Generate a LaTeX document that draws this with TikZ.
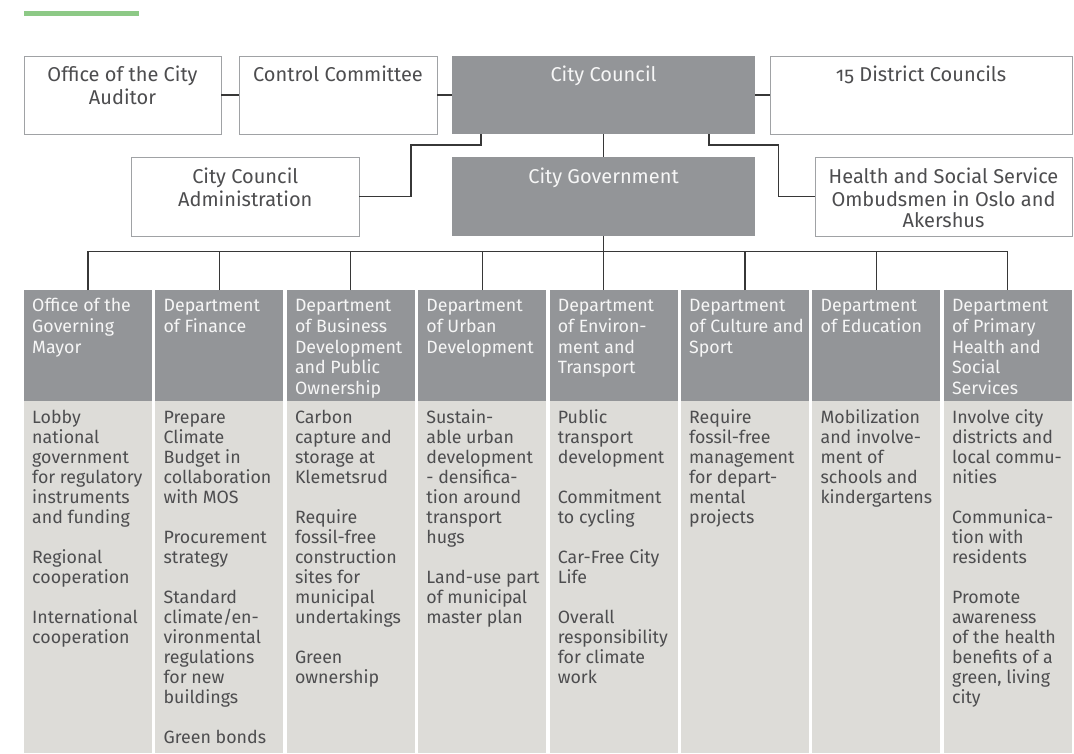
\documentclass[tikz,border=0pt]{standalone}
\usepackage{fontspec}
\setmainfont{Fira Sans}[Numbers=OldStyle]
\definecolor{greenbar}{RGB}{141,201,134}
\definecolor{dgray}{RGB}{147,149,152}
\definecolor{lgray}{RGB}{221,220,216}
\definecolor{txt}{RGB}{77,77,79}
\definecolor{boxline}{RGB}{160,162,165}
\definecolor{lineC}{RGB}{55,55,55}
\definecolor{htxt}{RGB}{246,246,246}
\begin{document}
\begin{tikzpicture}[x=1pt,y=-1pt,
 wbox/.style={draw=boxline,line width=0.9pt,fill=white,inner sep=0pt,outer sep=0pt,anchor=north west},
 gbox/.style={fill=dgray,inner sep=0pt,outer sep=0pt,anchor=north west},
 bbox/.style={fill=lgray,inner sep=0pt,outer sep=0pt,anchor=north west},
 toptext/.style={anchor=north,inner sep=0pt,align=center,text=txt,font=\fontsize{20}{21.6}\selectfont},
 toptextw/.style={toptext,text=htxt},
 htext/.style={anchor=north west,inner sep=0pt,align=left,text=htxt,font=\fontsize{17.8}{20.8}\selectfont},
 btext/.style={anchor=north west,inner sep=0pt,align=left,text=txt,font=\fontsize{17.8}{20}\selectfont},
 link/.style={draw=lineC,line width=1.1pt}
]
\useasboundingbox (0,0) rectangle (1074,753);
\fill[greenbar] (24,11) rectangle (139,16);

% top boxes
\node[wbox,minimum width=197pt,minimum height=78pt] (aud) at (24,56) {};
\node[wbox,minimum width=198pt,minimum height=78pt] (ctrl) at (239,56) {};
\node[gbox,minimum width=303pt,minimum height=78pt] (council) at (452,56) {};
\node[wbox,minimum width=302pt,minimum height=78pt] (dist) at (770,56) {};
\node[wbox,minimum width=227.5pt,minimum height=79pt] (admin) at (131.5,157) {};
\node[gbox,minimum width=303pt,minimum height=79pt] (gov) at (452,157) {};
\node[wbox,minimum width=257pt,minimum height=79pt] (health) at (815,157) {};

\node[toptext,yshift=-10pt] (audT) at (aud.north) {\strut Office of the City\\Auditor};
\node[toptext,yshift=-10pt] (ctrlT) at (ctrl.north) {\strut Control Committee};
\node[toptextw,yshift=-10pt] (councilT) at (council.north) {\strut City Council};
\node[toptext,yshift=-10pt] (distT) at (dist.north) {\strut 15 District Councils};
\node[toptext,yshift=-10.5pt] (adminT) at (admin.north) {\strut City Council\\Administration};
\node[toptextw,yshift=-10.5pt] (govT) at (gov.north) {\strut City Government};
\node[toptext,yshift=-10.5pt] (healthT) at (health.north) {\strut Health and Social Service\\Ombudsmen in Oslo and\\Akershus};

% department headers
\foreach \i/\x in {0/24,1/155.4,2/286.8,3/418.2,4/549.6,5/681,6/812.4,7/943.8}{
  \node[gbox,minimum width=127.9pt,minimum height=111pt] (h\i) at (\x,290) {};
  \node[bbox,minimum width=127.9pt,minimum height=352pt] (b\i) at (\x,401) {};
}
\node[htext,xshift=8pt,yshift=-6.7pt] (h0t) at (h0.north west) {\strut Office of the\\Governing\\Mayor};
\node[htext,xshift=8pt,yshift=-6.7pt] (h1t) at (h1.north west) {\strut Department\\of Finance};
\node[htext,xshift=8pt,yshift=-6.7pt] (h2t) at (h2.north west) {\strut Department\\of Business\\Development\\and Public\\Ownership};
\node[htext,xshift=8pt,yshift=-6.7pt] (h3t) at (h3.north west) {\strut Department\\of Urban\\Development};
\node[htext,xshift=8pt,yshift=-6.7pt] (h4t) at (h4.north west) {\strut Department\\of Environ-\\ment and\\Transport};
\node[htext,xshift=8pt,yshift=-6.7pt] (h5t) at (h5.north west) {\strut Department\\of Culture and\\Sport};
\node[htext,xshift=8pt,yshift=-6.7pt] (h6t) at (h6.north west) {\strut Department\\of Education};
\node[htext,xshift=8pt,yshift=-6.7pt] (h7t) at (h7.north west) {\strut Department\\of Primary\\Health and\\Social\\Services};

% body texts
\node[btext,xshift=8pt,yshift=-8.3pt] (b0t) at (b0.north west) {\strut Lobby\\national\\government\\for regulatory\\instruments\\and funding\\[20pt]Regional\\cooperation\\[20pt]International\\cooperation};
\node[btext,xshift=8pt,yshift=-8.3pt] (b1t) at (b1.north west) {\strut Prepare\\Climate\\Budget in\\collaboration\\with MOS\\[20pt]Procurement\\strategy\\[20pt]Standard\\climate/en-\\vironmental\\regulations\\for new\\buildings\\[20pt]Green bonds};
\node[btext,xshift=8pt,yshift=-8.3pt] (b2t) at (b2.north west) {\strut Carbon\\capture and\\storage at\\Klemetsrud\\[20pt]Require\\fossil-free\\construction\\sites for\\municipal\\undertakings\\[20pt]Green\\ownership};
\node[btext,xshift=8pt,yshift=-8.3pt] (b3t) at (b3.north west) {\strut Sustain-\\able urban\\development\\- densifica-\\tion around\\transport\\hugs\\[20pt]Land-use part\\of municipal\\master plan};
\node[btext,xshift=8pt,yshift=-8.3pt] (b4t) at (b4.north west) {\strut Public\\transport\\development\\[20pt]Commitment\\to cycling\\[20pt]Car-Free City\\Life\\[20pt]Overall\\responsibility\\for climate\\work};
\node[btext,xshift=8pt,yshift=-8.3pt] (b5t) at (b5.north west) {\strut Require\\fossil-free\\management\\for depart-\\mental\\projects};
\node[btext,xshift=8pt,yshift=-8.3pt] (b6t) at (b6.north west) {\strut Mobilization\\and involve-\\ment of\\schools and\\kindergartens};
\node[btext,xshift=8pt,yshift=-8.3pt] (b7t) at (b7.north west) {\strut Involve city\\districts and\\local commu-\\nities\\[20pt]Communica-\\tion with\\residents\\[20pt]Promote\\awareness\\of the health\\benefits of a\\green, living\\city};

% connectors
\draw[link] (aud) -- (ctrl);
\draw[link] (ctrl) -- (council);
\draw[link] (council) -- (dist);
\coordinate (lk) at (411,145);
\coordinate (rk) at (778.5,145);
\draw[link] ([xshift=29pt]council.south west) |- (lk) |- (admin.east);
\draw[link] ([xshift=-46pt]council.south east) |- (rk) |- (health.west);
\draw[link] (council) -- (gov);
\coordinate (bar) at (0,251.4);
\draw[link] (gov.south) -- (gov.south |- h4.north);
\draw[link] (h0.north) -- (h0.north |- bar) -- (h7.north |- bar) -- (h7.north);
\foreach \i in {1,2,3,5,6} \draw[link] (h\i.north) -- (h\i.north |- bar);
\end{tikzpicture}
\end{document}
